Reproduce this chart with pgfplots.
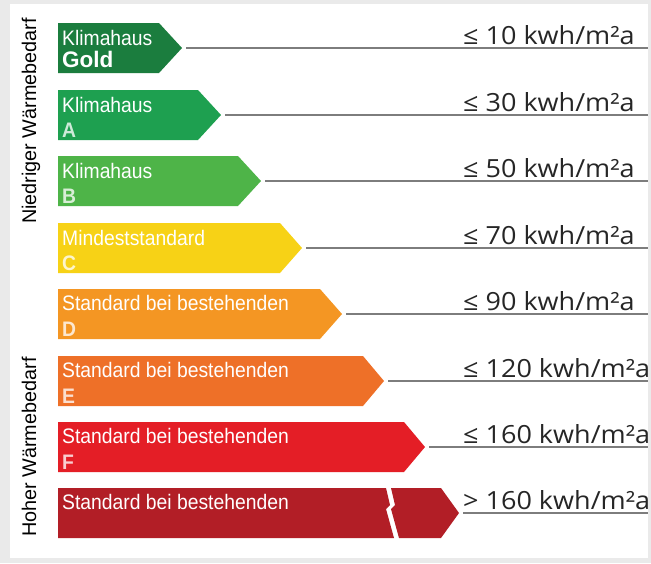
\documentclass[border=0pt]{standalone}
\usepackage{pgfplots}
\pgfplotsset{compat=1.18}
\usepackage{fontspec}
\setmainfont{Liberation Sans}
\newfontfamily\barfont[FakeStretch=0.92]{Liberation Sans}
\newfontfamily\valfont[FakeStretch=1.08]{Open Sans}

\definecolor{kgold}{RGB}{27,125,62}
\definecolor{ka}{RGB}{30,160,80}
\definecolor{kb}{RGB}{78,180,72}
\definecolor{kc}{RGB}{247,210,22}
\definecolor{kd}{RGB}{244,150,35}
\definecolor{ke}{RGB}{238,112,40}
\definecolor{kf}{RGB}{228,30,38}
\definecolor{kg}{RGB}{178,30,38}
\definecolor{frame}{RGB}{234,234,234}
\definecolor{rule}{RGB}{125,125,125}

\tikzset{
    barlabel/.style={anchor=base west, inner sep=0pt, text=white, font=\barfont\fontsize{21}{24}\selectfont},
    classletter/.style={anchor=base west, inner sep=0pt, text=white, text opacity=0.78, font=\barfont\bfseries\fontsize{21}{24}\selectfont},
    vallabel/.style={anchor=base west, inner sep=0pt, text=black!85, font=\valfont\fontsize{25}{28}\selectfont},
    sidelabel/.style={anchor=base, inner sep=0pt, rotate=90, text=black, font=\fontsize{19.8}{23}\selectfont},
}

\begin{document}
\begin{tikzpicture}
\begin{axis}[
    scale only axis,
    width=651pt, height=563pt,
    xmin=0, xmax=651, ymin=0, ymax=563,
    y dir=reverse,
    hide axis,
    clip=false,
]
% frame
\addplot[fill=frame, draw=none] coordinates {(0,0) (651,0) (651,563) (0,563)} --cycle;
\addplot[fill=white, draw=none] coordinates {(10,4) (648,4) (648,558) (10,558)} --cycle;

% rules from arrow tips to the right edge
\addplot[rule, line width=1.6pt] coordinates {(186,48) (648,48)};
\addplot[rule, line width=1.6pt] coordinates {(225,115) (648,115)};
\addplot[rule, line width=1.6pt] coordinates {(265,181) (648,181)};
\addplot[rule, line width=1.6pt] coordinates {(306,248) (648,248)};
\addplot[rule, line width=1.6pt] coordinates {(346,314) (648,314)};
\addplot[rule, line width=1.6pt] coordinates {(388,381) (648,381)};
\addplot[rule, line width=1.6pt] coordinates {(429,447) (648,447)};
\addplot[rule, line width=1.6pt] coordinates {(463,513) (648,513)};

% arrows
\addplot[fill=kgold, draw=none] coordinates {(58,23) (159,23) (182,48) (159,73) (58,73)} --cycle;
\addplot[fill=ka, draw=none] coordinates {(58,90) (198,90) (221,115) (198,140) (58,140)} --cycle;
\addplot[fill=kb, draw=none] coordinates {(58,156) (238,156) (261,181) (238,206) (58,206)} --cycle;
\addplot[fill=kc, draw=none] coordinates {(58,223) (280,223) (302,248) (280,273) (58,273)} --cycle;
\addplot[fill=kd, draw=none] coordinates {(58,289) (320,289) (342,314) (320,339) (58,339)} --cycle;
\addplot[fill=ke, draw=none] coordinates {(58,356) (363,356) (384,381) (363,406) (58,406)} --cycle;
\addplot[fill=kf, draw=none] coordinates {(58,422) (404,422) (425,447) (404,472) (58,472)} --cycle;
\addplot[fill=kg, draw=none] coordinates {(58,488) (386,488) (390,505) (386,509) (394,538) (58,538)} --cycle;
\addplot[fill=kg, draw=none] coordinates {(391,488) (441,488) (459,513) (441,538) (399,538) (391,509) (395,505)} --cycle;

% texts in the arrows
\node[barlabel] at (axis cs:62,45) {Klimahaus};
\node[anchor=base west, inner sep=0pt, text=white, font=\bfseries\fontsize{22.5}{26}\selectfont] at (axis cs:62,67) {Gold};
\node[barlabel] at (axis cs:62,112) {Klimahaus};
\node[classletter] at (axis cs:62,137) {A};
\node[barlabel] at (axis cs:62,178) {Klimahaus};
\node[classletter] at (axis cs:62,203) {B};
\node[barlabel] at (axis cs:62,245) {Mindeststandard};
\node[classletter] at (axis cs:62,270) {C};
\node[barlabel] at (axis cs:62,310) {Standard bei bestehenden};
\node[classletter] at (axis cs:62,336) {D};
\node[barlabel] at (axis cs:62,377) {Standard bei bestehenden};
\node[classletter] at (axis cs:62,403) {E};
\node[barlabel] at (axis cs:62,443) {Standard bei bestehenden};
\node[classletter] at (axis cs:62,469) {F};
\node[barlabel] at (axis cs:62,509) {Standard bei bestehenden};

% limits
\node[vallabel] at (axis cs:463,44) {≤ 10 kwh/m²a};
\node[vallabel] at (axis cs:463,111) {≤ 30 kwh/m²a};
\node[vallabel] at (axis cs:463,177) {≤ 50 kwh/m²a};
\node[vallabel] at (axis cs:463,244) {≤ 70 kwh/m²a};
\node[vallabel] at (axis cs:463,310) {≤ 90 kwh/m²a};
\node[vallabel] at (axis cs:463,377) {≤ 120 kwh/m²a};
\node[vallabel] at (axis cs:463,443) {≤ 160 kwh/m²a};
\node[vallabel] at (axis cs:463,509) {> 160 kwh/m²a};

% side labels
\node[sidelabel] at (axis cs:36,121) {Niedriger Wärmebedarf};
\node[sidelabel] at (axis cs:36,447) {Hoher Wärmebedarf};
\end{axis}
\end{tikzpicture}
\end{document}
